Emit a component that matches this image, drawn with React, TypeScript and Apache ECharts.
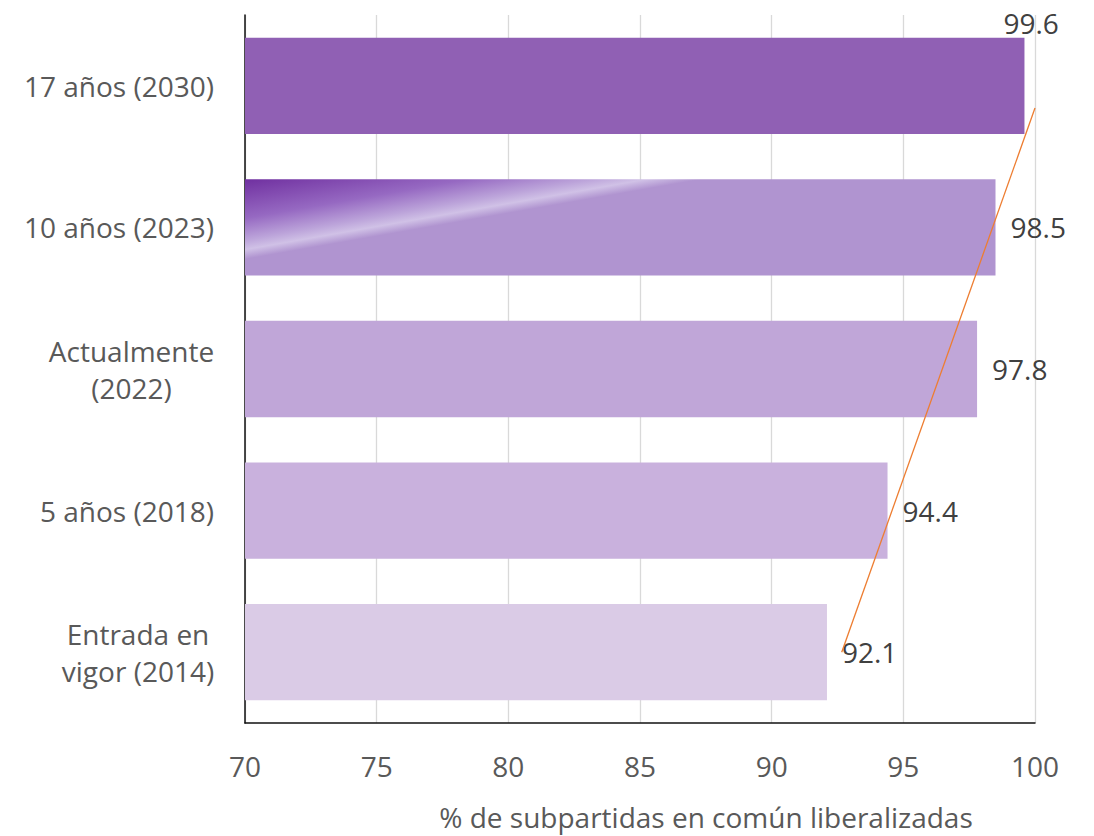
import React, { useEffect, useRef } from "react";
import * as echarts from "echarts";

// Categories listed bottom to top
const categories: string[] = [
  "Entrada en\nvigor (2014)",
  "5 años (2018)",
  "Actualmente\n(2022)",
  "10 años (2023)",
  "17 años (2030)",
];
const values: number[] = [92.1, 94.4, 97.8, 98.5, 99.6];
const barColors: string[] = ["#DACBE6", "#C9B1DD", "#C0A6D8", "#B094D0", "#9060B4"];
const xTicks = { min: 70, max: 100, interval: 5 };
const axisTitle = "% de subpartidas en común liberalizadas";

const FONT = '"Open Sans", "Liberation Sans", sans-serif';
const FS = 28;
const TXT = "#595959";

function measure(text: string): number {
  const c = document.createElement("canvas").getContext("2d");
  if (!c) return text.length * FS * 0.5;
  c.font = `${FS}px "Open Sans"`;
  return c.measureText(text).width;
}

export default function App() {
  const ref = useRef<HTMLDivElement>(null);
  useEffect(() => {
    if (!ref.current) return;
    const chart = echarts.init(ref.current, undefined, { renderer: "svg" });

    // linear trendline (least squares over category index)
    const n = values.length;
    const xm = (n - 1) / 2;
    const ym = values.reduce((a, b) => a + b, 0) / n;
    let sxy = 0, sxx = 0;
    values.forEach((v, i) => { sxy += (i - xm) * (v - ym); sxx += (i - xm) * (i - xm); });
    const slope = sxy / sxx;
    const icpt = ym - slope * xm;
    const endIdx = Math.min(n - 1, (xTicks.max - icpt) / slope);
    const trend = [
      [icpt, 0],
      [icpt + slope * endIdx, endIdx],
    ];

    const rich: Record<string, any> = {};
    categories.forEach((c, i) => {
      const w = Math.max(...c.split("\n").map(measure));
      rich["c" + i] = { width: Math.ceil(w) + 1, align: "center", fontSize: FS, fontFamily: FONT, color: TXT, lineHeight: 37 };
    });

    const barData = values.map((v, i) => {
      const item: any = { value: v, itemStyle: { color: barColors[i] } };
      if (i === 3) {
        item.itemStyle.color = new echarts.graphic.LinearGradient(0, 0, 0.43, 0.315, [
          { offset: 0, color: "#7030A0" },
          { offset: 0.45, color: "#9669C2" },
          { offset: 0.7, color: "#BCA4DA" },
          { offset: 0.81, color: "#D0C1E6" },
          { offset: 0.92, color: barColors[3] },
          { offset: 1, color: barColors[3] },
        ]);
      }
      if (i === n - 1) {
        item.label = { offset: [-36, -63] };
      }
      return item;
    });

    chart.setOption({
      animation: false,
      grid: { left: 245, right: 59, top: 15, bottom: 108, containLabel: false },
      xAxis: {
        type: "value",
        min: xTicks.min,
        max: xTicks.max,
        interval: xTicks.interval,
        axisLine: { show: true, onZero: false, lineStyle: { color: "#111", width: 1.5 } },
        axisTick: { show: false },
        axisLabel: { color: TXT, fontSize: FS, fontFamily: FONT, margin: 29 },
        splitLine: { show: true, lineStyle: { color: "#D9D9D9", width: 1.3 } },
        name: axisTitle,
        nameLocation: "middle",
        nameGap: 80,
        nameTextStyle: { color: TXT, fontSize: FS, fontFamily: FONT, padding: [0, 0, 0, 132] },
      },
      yAxis: [
        {
          type: "category",
          data: categories,
          axisLine: { show: true, lineStyle: { color: "#111", width: 1.5 } },
          axisTick: { show: false },
          axisLabel: {
            align: "right",
            margin: 30,
            color: TXT,
            fontSize: FS,
            fontFamily: FONT,
            lineHeight: 37,
            formatter: (val: string, idx: number) =>
              val.split("\n").map((l) => `{c${idx}|${l}}`).join("\n"),
            rich,
          },
        },
        { type: "value", min: -0.5, max: n - 0.5, show: false },
      ],
      series: [
        {
          type: "bar",
          data: barData,
          barCategoryGap: "32%",
          label: {
            show: true,
            position: "right",
            distance: 15,
            color: "#404040",
            fontSize: FS,
            fontFamily: FONT,
          },
        },
        {
          type: "line",
          yAxisIndex: 1,
          data: trend,
          symbol: "none",
          lineStyle: { color: "#ED7D31", width: 1.3 },
          z: 5,
        },
      ],
    });
    return () => chart.dispose();
  }, []);
  return <div ref={ref} style={{ width: 1094, height: 836, marginLeft: -8, marginTop: -8 }} />;
}
